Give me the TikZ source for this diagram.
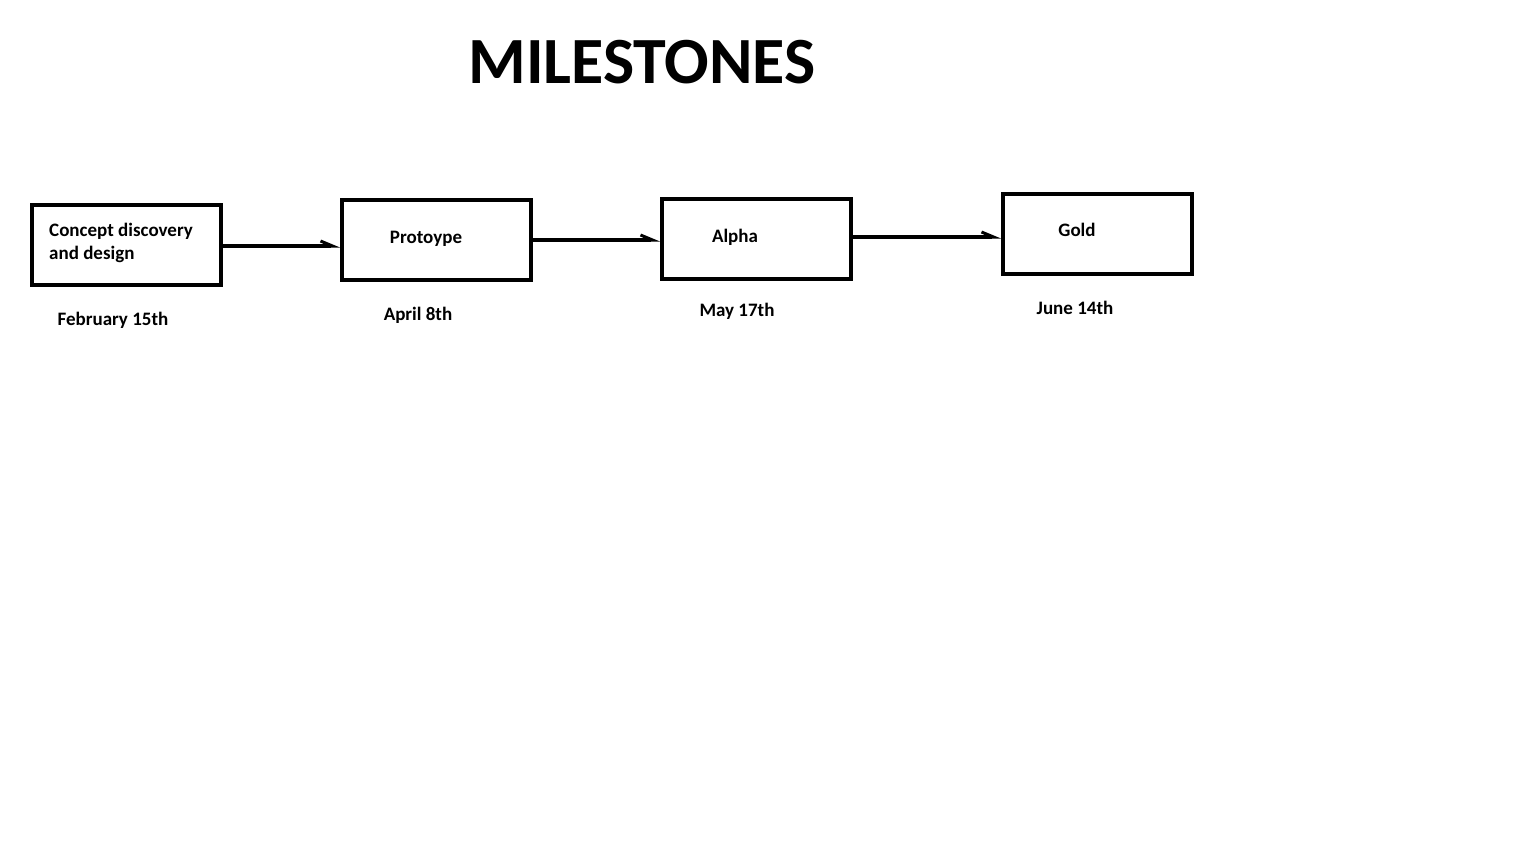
\documentclass[tikz,border=0pt]{standalone}
\usepackage{fontspec}
\setmainfont{Carlito}
\usetikzlibrary{arrows.meta}
\begin{document}
\begin{tikzpicture}[x=1pt,y=-1pt,
  stagebox/.style={draw=black,line width=4pt,minimum width=189pt,minimum height=80pt,inner sep=0pt},
  lbl/.style={font=\fontsize{19}{23}\selectfont\bfseries,inner sep=0pt},
  conn/.style={line width=4pt,-{Straight Barb[left,length=12pt,width=10pt,line width=3pt]}}]
\useasboundingbox (0,0) rectangle (1536,864);
\fill[white] (0,0) rectangle (1536,864);
\node[font=\fontsize{66}{78}\selectfont\bfseries,inner sep=0pt] (title) at (642,62) {MILESTONES};
\node[stagebox] (b1) at (126.5,245) {};
\node[stagebox] (b2) at (436.5,240) {};
\node[stagebox] (b3) at (756.5,239) {};
\node[stagebox] (b4) at (1097.5,234) {};
\node[lbl,align=left,anchor=west] (t1) at (49,243) {Concept discovery\\and design};
\node[lbl] (t2) at (426,239) {Protoype};
\node[lbl] (t3) at (735,237) {Alpha};
\node[lbl] (t4) at (1077,230) {Gold};
\node[lbl] (d1) at (113,320) {February 15th};
\node[lbl] (d2) at (418,315) {April 8th};
\node[lbl] (d3) at (737,311) {May 17th};
\node[lbl] (d4) at (1075,308) {June 14th};
\draw[conn] ([yshift=-1pt]b1.east) -- ([yshift=-1pt]b1.east -| b2.west);
\draw[conn] (b2.east) -- (b2.east -| b3.west);
\draw[conn] ([yshift=2pt]b3.east) -- ([yshift=2pt]b3.east -| b4.west);
\end{tikzpicture}
\end{document}
